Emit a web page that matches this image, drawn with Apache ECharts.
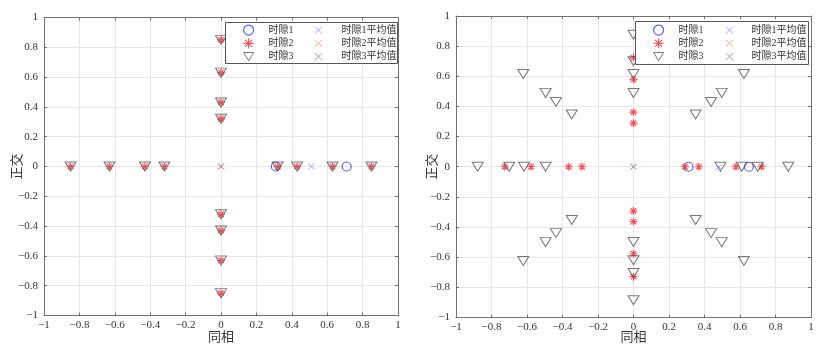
<!DOCTYPE html>
<html>
<head>
<meta charset="utf-8">
<script src="https://cdn.jsdelivr.net/npm/echarts@6/dist/echarts.min.js"></script>
<style>
  html, body { margin: 0; padding: 0; background: #fff; }
  #chart { width: 830px; height: 349px; }
</style>
</head>
<body>
<div id="chart"></div>
<script>
// ---- Constellation points, left panel ----
const leftSlot1 = [[0.31, 0], [0.71, 0]];
const leftSlot2 = [
  [-0.85, 0], [-0.63, 0], [-0.43, 0], [-0.32, 0],
  [0.32, 0], [0.43, 0], [0.63, 0], [0.85, 0],
  [0, 0.85], [0, 0.63], [0, 0.43], [0, 0.32],
  [0, -0.32], [0, -0.43], [0, -0.63], [0, -0.85]
];
const leftSlot3 = [
  [-0.85, 0], [-0.63, 0], [-0.43, 0], [-0.32, 0],
  [0.32, 0], [0.43, 0], [0.63, 0], [0.85, 0],
  [0, 0.85], [0, 0.63], [0, 0.43], [0, 0.32],
  [0, -0.32], [0, -0.43], [0, -0.63], [0, -0.85]
];
const leftMean1 = [[0.51, 0]];
const leftMean2 = [[0, 0]];
const leftMean3 = [[0, 0]];

// ---- Constellation points, right panel ----
const rightSlot1 = [[0.31, 0], [0.65, 0]];
const rightSlot2 = [
  [-0.725, 0], [-0.577, 0], [-0.365, 0], [-0.29, 0],
  [0.29, 0], [0.368, 0], [0.577, 0], [0.722, 0],
  [0, 0.724], [0, 0.578], [0, 0.362], [0, 0.289],
  [0, -0.294], [0, -0.364], [0, -0.577], [0, -0.729]
];
const rightSlot3 = [
  [-0.878, 0], [-0.70, 0], [-0.617, 0], [-0.495, 0],
  [0.49, 0], [0.61, 0], [0.70, 0], [0.872, 0],
  [0, 0.876], [0, 0.70], [0, 0.615], [0, 0.489],
  [0, -0.499], [0, -0.62], [0, -0.705], [0, -0.886],
  [-0.621, 0.615], [-0.495, 0.49], [-0.437, 0.43], [-0.348, 0.347],
  [0.35, 0.347], [0.437, 0.43], [0.497, 0.49], [0.622, 0.615],
  [-0.621, -0.625], [-0.495, -0.50], [-0.437, -0.44], [-0.348, -0.353],
  [0.35, -0.353], [0.437, -0.44], [0.497, -0.50], [0.622, -0.625]
];
const rightMean1 = [[0.48, 0]];
const rightMean2 = [[0, 0]];
const rightMean3 = [[0, 0]];

// ---- Labels ----
const seriesNames = ['时隙1', '时隙2', '时隙3'];
const meanNames = ['时隙1平均值', '时隙2平均值', '时隙3平均值'];
const xAxisName = '同相';
const yAxisName = '正交';

// ---- Marker shapes ----
const STAR = 'path://M5,0L5,10M0,5L10,5M1.5,1.5L8.5,8.5M1.5,8.5L8.5,1.5';
const CROSS = 'path://M0,0L10,10M0,10L10,0';
const TRI_DOWN = 'path://M0,0L12,0L6,10Z';

const markerStyles = {
  slot1: { symbol: 'circle', size: 9, color: '#3a3ad0', width: 1.2 },
  slot2: { symbol: STAR, size: 8, color: '#e8303a', width: 1.2 },
  slot3: { symbol: TRI_DOWN, size: [11, 9], color: '#555555', width: 1 },
  mean1: { symbol: CROSS, size: 6, color: '#8a8ae8', width: 1 },
  mean2: { symbol: CROSS, size: 6, color: '#f08a8a', width: 1 },
  mean3: { symbol: CROSS, size: 6, color: '#888888', width: 1 }
};

const NUM_FONT = "'Liberation Serif', 'Noto Sans CJK SC', serif";
const BOX = '#707070';

function fmt(v) {
  const r = Math.round(v * 10) / 10;
  return r < 0 ? '\u2212' + Math.abs(r) : String(r);
}

function mkSeries(name, data, gi, st) {
  return {
    type: 'scatter', name: name, data: data,
    xAxisIndex: gi * 2, yAxisIndex: gi * 2,
    symbol: st.symbol, symbolSize: st.size,
    itemStyle: { color: 'transparent', borderColor: st.color, borderWidth: st.width },
    emphasis: { disabled: true }, silent: true, animation: false
  };
}

function mkXAxes(gi, gap) {
  const base = { type: 'value', gridIndex: gi, min: -1, max: 1, interval: 0.2 };
  return [
    Object.assign({}, base, {
      position: 'bottom',
      name: xAxisName, nameLocation: 'middle', nameGap: gap, nameMoveOverlap: false,
      nameTextStyle: { fontFamily: NUM_FONT, fontSize: 13, color: '#333', verticalAlign: 'top' },
      axisLine: { show: true, onZero: false, lineStyle: { color: BOX, width: 1 } },
      axisTick: { show: true, inside: true, length: 3, lineStyle: { color: BOX } },
      axisLabel: { formatter: fmt, margin: 4, fontFamily: NUM_FONT, fontSize: 11, color: '#333' },
      splitLine: { show: true, lineStyle: { color: '#e6e6e6', width: 1 } }
    }),
    Object.assign({}, base, {
      position: 'top',
      axisLine: { show: true, onZero: false, lineStyle: { color: BOX, width: 1 } },
      axisTick: { show: true, inside: true, length: 3, lineStyle: { color: BOX } },
      axisLabel: { show: false }, splitLine: { show: false }
    })
  ];
}

function mkYAxes(gi, gap) {
  const base = { type: 'value', gridIndex: gi, min: -1, max: 1, interval: 0.2 };
  return [
    Object.assign({}, base, {
      position: 'left',
      name: yAxisName, nameLocation: 'middle', nameGap: gap, nameRotate: 90, nameMoveOverlap: false,
      nameTextStyle: { fontFamily: NUM_FONT, fontSize: 13, color: '#333' },
      axisLine: { show: true, onZero: false, lineStyle: { color: BOX, width: 1 } },
      axisTick: { show: true, inside: true, length: 3, lineStyle: { color: BOX } },
      axisLabel: { formatter: fmt, margin: 6, fontFamily: NUM_FONT, fontSize: 11, color: '#333' },
      splitLine: { show: true, lineStyle: { color: '#e6e6e6', width: 1 } }
    }),
    Object.assign({}, base, {
      position: 'right',
      axisLine: { show: true, onZero: false, lineStyle: { color: BOX, width: 1 } },
      axisTick: { show: true, inside: true, length: 3, lineStyle: { color: BOX } },
      axisLabel: { show: false }, splitLine: { show: false }
    })
  ];
}

function legendItem(name, st) {
  return {
    name: name, icon: st.symbol,
    itemStyle: { color: 'transparent', borderColor: st.color, borderWidth: st.width }
  };
}

function mkLegends(iconX1, iconX2, top, pad1, pad2) {
  const common = {
    orient: 'vertical', top: top, itemGap: 0,
    selectedMode: false, z: 20, padding: 0
  };
  const txt = { fontFamily: NUM_FONT, fontSize: 10, color: '#333', lineHeight: 13.3 };
  return [
    Object.assign({}, common, {
      left: iconX1, itemWidth: 10, itemHeight: 10,
      textStyle: Object.assign({ padding: [0, 0, 0, pad1] }, txt),
      data: [
        legendItem(seriesNames[0], markerStyles.slot1),
        legendItem(seriesNames[1], markerStyles.slot2),
        legendItem(seriesNames[2], markerStyles.slot3)
      ]
    }),
    Object.assign({}, common, {
      left: iconX2, itemWidth: 7, itemHeight: 7,
      textStyle: Object.assign({ padding: [0, 0, 0, pad2] }, txt),
      data: [
        legendItem(meanNames[0], markerStyles.mean1),
        legendItem(meanNames[1], markerStyles.mean2),
        legendItem(meanNames[2], markerStyles.mean3)
      ]
    })
  ];
}

const panels = [
  { s1: leftSlot1, s2: leftSlot2, s3: leftSlot3, m1: leftMean1, m2: leftMean2, m3: leftMean3 },
  { s1: rightSlot1, s2: rightSlot2, s3: rightSlot3, m1: rightMean1, m2: rightMean2, m3: rightMean3 }
];

const series = [];
panels.forEach(function (p, gi) {
  series.push(mkSeries(seriesNames[0], p.s1, gi, markerStyles.slot1));
  series.push(mkSeries(seriesNames[1], p.s2, gi, markerStyles.slot2));
  series.push(mkSeries(seriesNames[2], p.s3, gi, markerStyles.slot3));
  series.push(mkSeries(meanNames[0], p.m1, gi, markerStyles.mean1));
  series.push(mkSeries(meanNames[1], p.m2, gi, markerStyles.mean2));
  series.push(mkSeries(meanNames[2], p.m3, gi, markerStyles.mean3));
});

const option = {
  backgroundColor: '#ffffff',
  animation: false,
  grid: [
    { left: 44, top: 17.5, width: 354, height: 302.5 },
    { left: 456, top: 16, width: 355, height: 306.5 }
  ],
  xAxis: mkXAxes(0, 15.5).concat(mkXAxes(1, 13.5)),
  yAxis: mkYAxes(0, 20).concat(mkYAxes(1, 17)),
  legend: mkLegends(243, 314.5, 23.4, 10, 14.5).concat(mkLegends(653, 725.5, 23.4, 10, 13.5)),
  graphic: [
    { type: 'rect', z: 10, silent: true,
      shape: { x: 225.5, y: 22.5, width: 172, height: 41 },
      style: { fill: '#ffffff', stroke: '#555555', lineWidth: 1 } },
    { type: 'rect', z: 10, silent: true,
      shape: { x: 635.5, y: 21.5, width: 173, height: 43 },
      style: { fill: '#ffffff', stroke: '#555555', lineWidth: 1 } }
  ],
  series: series
};

const chart = echarts.init(document.getElementById('chart'), null, { renderer: 'canvas' });
chart.setOption(option);
</script>
</body>
</html>
